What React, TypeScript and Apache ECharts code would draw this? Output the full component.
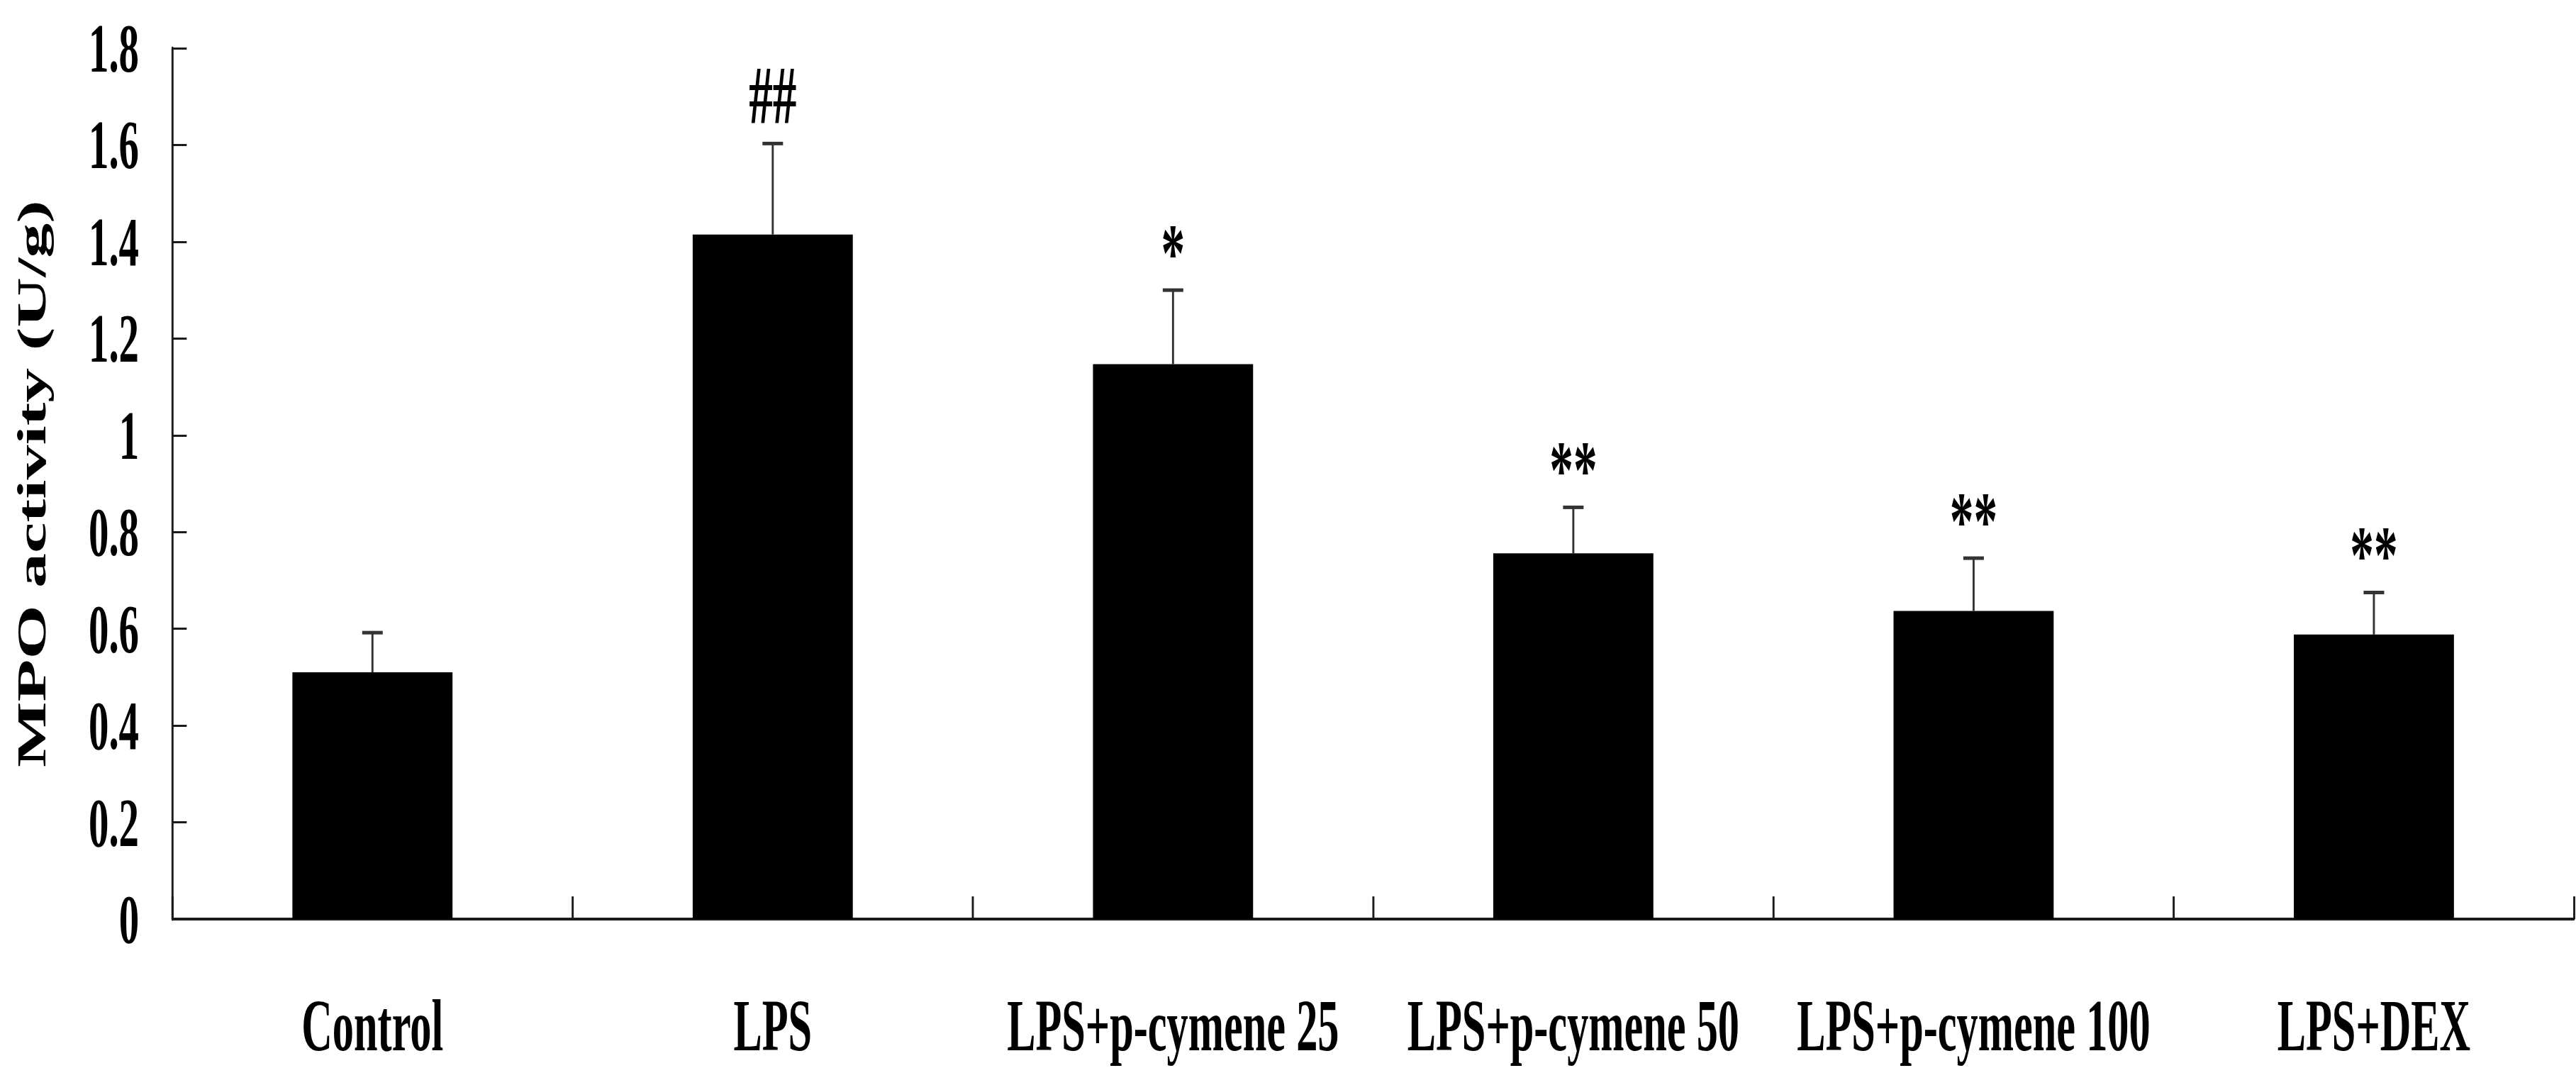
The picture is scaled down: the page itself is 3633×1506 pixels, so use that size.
import React, { useEffect, useRef } from 'react';
import * as echarts from 'echarts';

// ---- data ----
const categories = [
  'Control',
  'LPS',
  'LPS+p-cymene 25',
  'LPS+p-cymene 50',
  'LPS+p-cymene 100',
  'LPS+DEX',
];
const means = [0.51, 1.415, 1.147, 0.756, 0.637, 0.588];
const errors = [0.082, 0.188, 0.153, 0.095, 0.109, 0.087];
const marks = ['', '##', '*', '**', '**', '**'];
const yMin = 0;
const yMax = 1.8;
const yInterval = 0.2;
const yTitle = 'MPO activity (U/g)';

// the reference is horizontally compressed; render wider and squash
const SX = 0.58;
const OUT_W = 3633;
const OUT_H = 1506;
const W = Math.round(OUT_W / SX);

const FONT = "'Liberation Serif', 'Times New Roman', Times, serif";

export default function App() {
  const ref = useRef<HTMLDivElement>(null);

  useEffect(() => {
    if (!ref.current) return;
    const chart = echarts.init(ref.current, null, { renderer: 'svg' });
    chart.setOption({
      animation: false,
      backgroundColor: '#ffffff',
      grid: {
        left: 419,
        right: 5,
        top: 68,
        bottom: 210,
        containLabel: false,
        outerBoundsMode: 'none',
      },
      xAxis: {
        type: 'category',
        data: categories,
        boundaryGap: true,
        axisLine: { show: true, lineStyle: { color: '#1a1a1a', width: 4 } },
        axisTick: {
          show: true,
          inside: true,
          length: 32,
          alignWithLabel: false,
          lineStyle: { color: '#1a1a1a', width: 5 },
        },
        axisLabel: {
          interval: 0,
          margin: 98,
          fontSize: 104,
          fontWeight: 'bold',
          fontFamily: FONT,
          color: '#000',
        },
        splitLine: { show: false },
      },
      yAxis: {
        type: 'value',
        min: yMin,
        max: yMax,
        interval: yInterval,
        name: yTitle,
        nameLocation: 'middle',
        nameGap: 292,
        nameRotate: 90,
        nameTextStyle: {
          fontSize: 98,
          fontWeight: 'bold',
          fontFamily: FONT,
          color: '#000',
        },
        axisLine: { show: true, lineStyle: { color: '#1a1a1a', width: 5 } },
        axisTick: {
          show: true,
          inside: true,
          length: 35,
          lineStyle: { color: '#1a1a1a', width: 3 },
        },
        axisLabel: {
          margin: 81,
          fontSize: 98,
          fontWeight: 'bold',
          fontFamily: FONT,
          color: '#000',
        },
        splitLine: { show: false },
      },
      series: [
        {
          type: 'bar',
          data: means,
          barWidth: '40%',
          itemStyle: { color: '#000' },
          silent: true,
        },
        {
          type: 'custom',
          z: 5,
          silent: true,
          data: means.map((m, i) => [i, m, errors[i]]),
          renderItem: (params: any, api: any) => {
            const i = api.value(0);
            const m = api.value(1);
            const e = api.value(2);
            const base = api.coord([i, m]);
            const top = api.coord([i, m + e]);
            const cap = 25;
            const mark = marks[params.dataIndex];
            const children: any[] = [
              {
                type: 'line',
                shape: { x1: base[0], y1: base[1], x2: top[0], y2: top[1] },
                style: { stroke: '#333', lineWidth: 5 },
              },
              {
                type: 'line',
                shape: { x1: top[0] - cap, y1: top[1], x2: top[0] + cap, y2: top[1] },
                style: { stroke: '#333', lineWidth: 5 },
              },
            ];
            if (mark) {
              const isHash = mark.charAt(0) === '#';
              children.push({
                type: 'text',
                x: top[0],
                y: top[1] - (isHash ? 68 : 52),
                style: {
                  text: mark,
                  fontSize: 116,
                  fontWeight: 'bold',
                  fontFamily: FONT,
                  fill: '#000',
                  align: 'center',
                  verticalAlign: 'middle',
                },
              });
            }
            return { type: 'group', children };
          },
        },
      ],
    });
    return () => {
      chart.dispose();
    };
  }, []);

  return (
    <div
      style={{
        position: 'fixed',
        left: 0,
        top: 0,
        width: OUT_W,
        height: OUT_H,
        overflow: 'hidden',
        background: '#fff',
      }}
    >
      <div
        ref={ref}
        style={{
          width: W,
          height: OUT_H,
          transform: `scaleX(${SX})`,
          transformOrigin: '0 0',
        }}
      />
    </div>
  );
}
